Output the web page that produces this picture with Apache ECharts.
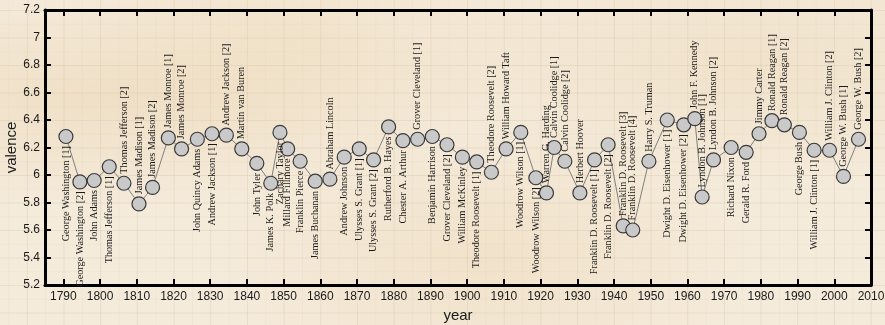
<!DOCTYPE html>
<html>
<head>
<meta charset="utf-8">
<title>Inaugural address valence</title>
<script src="https://cdn.jsdelivr.net/npm/echarts@6/dist/echarts.min.js"></script>
<style>
  html, body { margin: 0; padding: 0; }
  body {
    width: 885px; height: 325px; overflow: hidden;
    background-color: #f5ebdb;
    background-image:
      radial-gradient(ellipse at 12% 30%, rgba(226,196,148,0.30), rgba(226,196,148,0) 35%),
      radial-gradient(ellipse at 55% 80%, rgba(228,198,150,0.25), rgba(228,198,150,0) 40%),
      radial-gradient(ellipse at 85% 20%, rgba(224,194,145,0.22), rgba(224,194,145,0) 35%),
      radial-gradient(ellipse at 35% 10%, rgba(232,205,160,0.22), rgba(232,205,160,0) 30%),
      linear-gradient(to right, rgba(140,110,70,0.08) 1px, transparent 1px),
      linear-gradient(to bottom, rgba(140,110,70,0.08) 1px, transparent 1px),
      linear-gradient(to right, rgba(140,110,70,0.04) 1px, transparent 1px),
      linear-gradient(to bottom, rgba(140,110,70,0.04) 1px, transparent 1px);
    background-size: 100% 100%, 100% 100%, 100% 100%, 100% 100%,
      36.7px 27.5px, 36.7px 27.5px, 18.35px 13.75px, 18.35px 13.75px;
    background-position: 0 0, 0 0, 0 0, 0 0,
      63.5px 10px, 63.5px 10px, 63.5px 10px, 63.5px 10px;
  }
  #chart { width: 885px; height: 325px; }
</style>
</head>
<body>
<div id="chart"></div>
<script>
// Inaugural addresses: speaker, year plotted, mean valence of the speech
const presidents = [
  'George Washington [1]', 'George Washington [2]', 'John Adams',
  'Thomas Jefferson [1]', 'Thomas Jefferson [2]', 'James Madison [1]',
  'James Madison [2]', 'James Monroe [1]', 'James Monroe [2]',
  'John Quincy Adams', 'Andrew Jackson [1]', 'Andrew Jackson [2]',
  'Martin van Buren', 'John Tyler', 'James K. Polk', 'Zachary Taylor',
  'Millard Fillmore', 'Franklin Pierce', 'James Buchanan', 'Abraham Lincoln',
  'Andrew Johnson', 'Ulysses S. Grant [1]', 'Ulysses S. Grant [2]',
  'Rutherford B. Hayes', 'Chester A. Arthur', 'Grover Cleveland [1]',
  'Benjamin Harrison', 'Grover Cleveland [2]', 'William McKinley',
  'Theodore Roosevelt [1]', 'Theodore Roosevelt [2]', 'William Howard Taft',
  'Woodrow Wilson [1]', 'Woodrow Wilson [2]', 'Warren G. Harding',
  'Calvin Coolidge [1]', 'Calvin Coolidge [2]', 'Herbert Hoover',
  'Franklin D. Roosevelt [1]', 'Franklin D. Roosevelt [2]',
  'Franklin D. Roosevelt [3]', 'Franklin D. Roosevelt [4]',
  'Harry S. Truman', 'Dwight D. Eisenhower [1]', 'Dwight D. Eisenhower [2]',
  'John F. Kennedy', 'Lyndon B. Johnson [1]', 'Lyndon B. Johnson [2]',
  'Richard Nixon', 'Gerald R. Ford', 'Jimmy Carter', 'Ronald Reagan [1]',
  'Ronald Reagan [2]', 'George Bush', 'William J. Clinton [1]',
  'William J. Clinton [2]', 'George W. Bush [1]', 'George W. Bush [2]'
];

const years = [
  1790.7, 1794.5, 1798.4, 1802.5, 1806.5, 1810.6, 1814.3, 1818.6, 1822.2,
  1826.5, 1830.5, 1834.4, 1838.6, 1842.7, 1846.5, 1849.0, 1851.1, 1854.5,
  1858.6, 1862.6, 1866.5, 1870.6, 1874.5, 1878.6, 1882.5, 1886.5, 1890.5,
  1894.5, 1898.7, 1902.6, 1906.6, 1910.6, 1914.6, 1918.7, 1921.6, 1923.7,
  1926.6, 1930.7, 1934.7, 1938.4, 1942.5, 1945.1, 1949.5, 1954.5, 1959.0,
  1962.0, 1964.0, 1967.1, 1971.9, 1976.0, 1979.5, 1983.0, 1986.4, 1990.5,
  1994.5, 1998.7, 2002.5, 2006.6
];

const valence = [
  6.28, 5.95, 5.96, 6.06, 5.94, 5.79, 5.91, 6.27, 6.19,
  6.26, 6.30, 6.29, 6.19, 6.085, 5.94, 6.31, 6.19, 6.10,
  5.955, 5.97, 6.13, 6.19, 6.11, 6.35, 6.25, 6.26, 6.28,
  6.22, 6.13, 6.095, 6.02, 6.19, 6.31, 5.98, 5.87, 6.20,
  6.10, 5.87, 6.11, 6.22, 5.63, 5.60, 6.10, 6.40, 6.365,
  6.41, 5.84, 6.11, 6.20, 6.165, 6.30, 6.395, 6.365, 6.31,
  6.18, 6.18, 5.99, 6.26
];

// which side of its marker each name is written on ('t' above, 'b' below)
const labelSide = [
  'b', 'b', 'b', 'b', 't', 't', 't', 't', 't',
  'b', 'b', 't', 't', 'b', 'b', 'b', 'b', 'b',
  'b', 't', 'b', 'b', 'b', 'b', 'b', 't', 'b',
  'b', 'b', 'b', 't', 't', 'b', 'b', 't', 't',
  't', 't', 'b', 'b', 't', 't', 't', 'b', 'b',
  't', 't', 't', 'b', 'b', 't', 't', 't', 'b',
  'b', 't', 't', 't'
];

const xTicks = [];
for (let y = 1790; y <= 2010; y += 10) xTicks.push(y);

const points = years.map((yr, i) => ({
  value: [yr, valence[i]],
  name: presidents[i],
  label: labelSide[i] === 't'
    ? { position: 'top', align: 'left' }
    : { position: 'bottom', align: 'right' }
}));

const axisLine = { show: true, onZero: false, lineStyle: { color: '#000', width: 3 } };
const axisTick = { show: true, inside: true, length: 6, lineStyle: { color: '#000', width: 2 } };
const tickFont = { color: '#1a1a1a', fontFamily: 'Liberation Sans, Arial, sans-serif', fontSize: 12 };

const chart = echarts.init(document.getElementById('chart'), null, { renderer: 'canvas' });
chart.setOption({
  backgroundColor: 'transparent',
  animation: false,
  grid: { left: 45, right: 14, top: 10, bottom: 40, containLabel: false, outerBoundsMode: 'none' },
  xAxis: [
    {
      type: 'value', min: 1785, max: 2010, position: 'bottom',
      name: 'year', nameLocation: 'middle', nameGap: 23,
      nameTextStyle: { color: '#1a1a1a', fontFamily: 'Liberation Sans, Arial, sans-serif', fontSize: 15 },
      axisLine, axisTick: Object.assign({ customValues: xTicks }, axisTick),
      axisLabel: Object.assign({ customValues: xTicks, margin: 6, formatter: v => String(Math.round(v)) }, tickFont),
      splitLine: { show: false }
    },
    {
      type: 'value', min: 1785, max: 2010, position: 'top',
      axisLine, axisTick: Object.assign({ customValues: xTicks }, axisTick),
      axisLabel: { show: false }, splitLine: { show: false }
    }
  ],
  yAxis: [
    {
      type: 'value', min: 5.2, max: 7.2, interval: 0.2, position: 'left',
      name: 'valence', nameLocation: 'middle', nameGap: 26, nameRotate: 90,
      nameMoveOverlap: false,
      nameTextStyle: { color: '#1a1a1a', fontFamily: 'Liberation Sans, Arial, sans-serif', fontSize: 15 },
      axisLine, axisTick,
      axisLabel: Object.assign({ margin: 5, formatter: v => String(+v.toFixed(1)) }, tickFont),
      splitLine: { show: false }
    },
    {
      type: 'value', min: 5.2, max: 7.2, interval: 0.2, position: 'right',
      axisLine, axisTick, axisLabel: { show: false }, splitLine: { show: false }
    }
  ],
  series: [{
    type: 'line',
    data: points,
    symbol: 'circle',
    symbolSize: 14,
    lineStyle: { color: '#7f7f7f', width: 1 },
    itemStyle: { color: '#c9c9c9', borderColor: '#3a3a3a', borderWidth: 1.2 },
    label: {
      show: true,
      rotate: 90,
      distance: 2,
      verticalAlign: 'middle',
      formatter: p => p.name,
      color: '#1a1a1a',
      fontFamily: 'Liberation Serif, Times New Roman, serif',
      fontSize: 10.2
    },
    labelLayout: { hideOverlap: false },
    z: 3
  }]
});
</script>
</body>
</html>
